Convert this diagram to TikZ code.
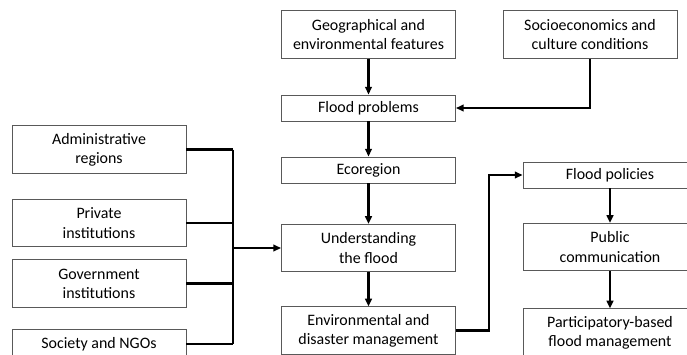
\documentclass[tikz,border=0pt]{standalone}
\usepackage{fontspec}
\setmainfont{Carlito}
\usetikzlibrary{arrows.meta}

\tikzset{
  box/.style={draw=black!65, line width=0.8pt, fill=white, align=center,
    minimum width=5.22cm, font=\fontsize{13.6}{16.4}\selectfont},
  tall/.style={box, minimum height=1.42cm},
  flat/.style={box, minimum height=0.78cm},
  link/.style={line width=1.8pt},
  arr/.style={link, -{Triangle[length=2.3mm, width=2mm]}}
}

\begin{document}
\begin{tikzpicture}[x=0.03cm, y=-0.03cm]
  \useasboundingbox (0,0) rectangle (687,354);
  \clip (0,0) rectangle (687,354);
  %centre column
  \node[tall] (geo) at (368.5,34.5) {Geographical and\\environmental features};
  \node[tall] (cult) at (590,34.5) {Socioeconomics and\\culture conditions};
  \node[flat] (prob) at (368.5,108) {Flood problems};
  \node[flat] (eco) at (368.5,170) {Ecoregion};
  \node[tall] (und) at (368.5,248) {Understanding\\the flood};
  \node[tall] (env) at (368.5,330.5) {Environmental and\\disaster management};
  %right column
  \node[flat] (pol) at (610,175) {Flood policies};
  \node[tall] (pub) at (610,247) {Public\\communication};
  \node[tall] (part) at (610,332.5) {Participatory-based\\flood management};
  %actors
  \node[tall] (adm) at (99,149.5) {Administrative\\regions};
  \node[tall] (pri) at (99,223) {Private\\institutions};
  \node[tall] (gov) at (99,283.5) {Government\\institutions};
  \node[box, minimum height=0.9cm] (ngo) at (99,344) {Society and NGOs};
  \coordinate (bus) at (233,248);
  %links
  \draw[arr] (geo) -- (prob);
  \draw[arr] (cult.south) |- (prob.east);
  \draw[arr] (prob) -- (eco);
  \draw[arr] (eco) -- (und);
  \draw[arr] (und) -- (env);
  \draw[arr] (env.east) -- ++(33,0) |- (pol.west);
  \draw[arr] (pol) -- (pub);
  \draw[arr] (pub) -- (part);
  \foreach \n in {adm, pri, gov, ngo}{
    \draw[link] (\n.east) -- (\n.east -| bus);
  }
  \draw[link] (adm.east -| bus) -- (ngo.east -| bus);
  \draw[arr] (bus) -- (und.west);
\end{tikzpicture}
\end{document}
